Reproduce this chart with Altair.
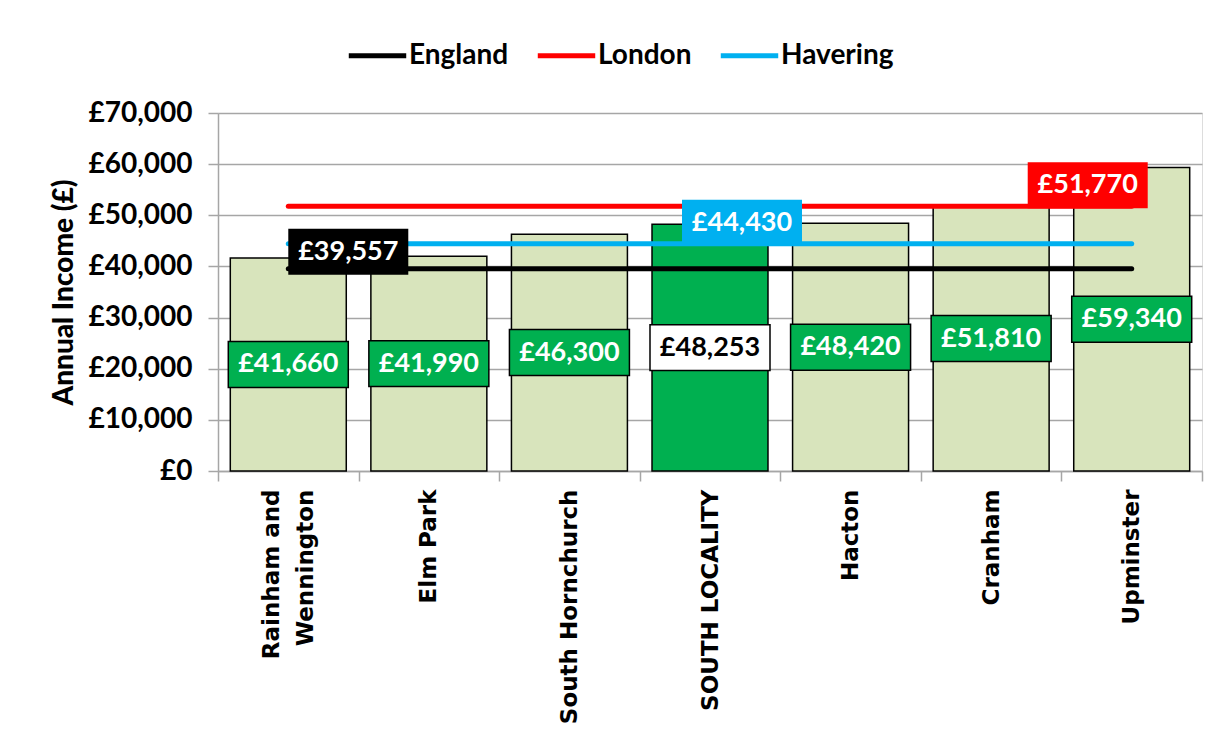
import altair as alt
import pandas as pd

# ---- data ----
categories = ["Rainham and Wennington", "Elm Park", "South Hornchurch",
              "SOUTH LOCALITY", "Hacton", "Cranham", "Upminster"]
incomes = [41660, 41990, 46300, 48253, 48420, 51810, 59340]
highlight = "SOUTH LOCALITY"

series_names = ["England", "London", "Havering"]
series_values = [39557, 51770, 44430]
series_colors = ["#000000", "#FF0000", "#00B0F0"]
series_label_anchor = ["Rainham and Wennington", "Upminster", "SOUTH LOCALITY"]

y_ticks = [0, 10000, 20000, 30000, 40000, 50000, 60000, 70000]

# ---- tables ----
bars_df = pd.DataFrame({"area": categories, "income": incomes})
bars_df["label"] = ["£{:,}".format(v) for v in incomes]
bars_df["hl"] = bars_df["area"] == highlight

line_rows = []
for n, v in zip(series_names, series_values):
    line_rows.append({"series": n, "area": categories[0], "value": v})
    line_rows.append({"series": n, "area": categories[-1], "value": v})
lines_df = pd.DataFrame(line_rows)

LABEL_FONT = "Lato"
GRID = "#A6A6A6"
BOX = "M-1,-0.383H1V0.383H-1Z"

x_scale = alt.Scale(domain=categories, paddingInner=0, paddingOuter=0)
y_scale = alt.Scale(domain=[0, 70000])

x_enc = alt.X(
    "area:N", sort=categories, scale=x_scale,
    axis=alt.Axis(
        title=None, labelAngle=270, labelAlign="right", labelBaseline="middle",
        labelFont="DejaVu Sans", labelFontWeight="bold", labelFontSize=23,
        labelColor="#000000", labelPadding=8, labelLineHeight=34,
        labelExpr="datum.value == 'Rainham and Wennington' ? ['Rainham and', 'Wennington'] : datum.value",
        labelOffset={"condition": {"test": "datum.value == 'Rainham and Wennington'", "value": -17},
                     "value": 0},
        tickBand="extent", tickSize=10, tickColor=GRID, tickWidth=1.5,
        domainColor=GRID, domainWidth=1.5, labelLimit=400,
    ),
)
y_axis = alt.Axis(
    values=y_ticks, labelExpr="'£' + format(datum.value, ',')",
    labelFont=LABEL_FONT, labelFontWeight="bold", labelFontSize=28, labelColor="#000000",
    labelPadding=16, tickSize=10, tickColor=GRID, tickWidth=1.5,
    domainColor=GRID, domainWidth=1.5, gridColor=GRID, gridWidth=1.5,
    title="Annual Income (£)", titleFont=LABEL_FONT, titleFontSize=28,
    titleFontWeight=900, titleColor="#000000", titlePadding=10,
)

bars = alt.Chart(bars_df).mark_bar(
    stroke="#000000", strokeWidth=1.5, width=alt.RelativeBandSize(0.825)
).encode(
    x=x_enc,
    y=alt.Y("income:Q", scale=y_scale, axis=y_axis),
    fill=alt.condition("datum.hl", alt.value("#00B050"), alt.value("#D8E4BC")),
)

label_base = alt.Chart(bars_df).transform_calculate(mid="datum.income / 2")

bar_boxes = label_base.mark_point(
    shape=BOX, size=14400, filled=True, stroke="#000000", strokeWidth=1.5, opacity=1
).encode(
    x=alt.X("area:N", sort=categories, scale=x_scale),
    y=alt.Y("mid:Q", scale=y_scale),
    fill=alt.condition("datum.hl", alt.value("#FFFFFF"), alt.value("#00B050")),
)

bar_text = label_base.mark_text(
    font=LABEL_FONT, fontWeight="bold", fontSize=27, baseline="middle", align="center"
).encode(
    x=alt.X("area:N", sort=categories, scale=x_scale),
    y=alt.Y("mid:Q", scale=y_scale),
    text="label:N",
    color=alt.condition("datum.hl", alt.value("#000000"), alt.value("#FFFFFF")),
)

lines = alt.Chart(lines_df).mark_line(strokeWidth=5, strokeCap="round").encode(
    x=alt.X("area:N", sort=categories, scale=x_scale),
    y=alt.Y("value:Q", scale=y_scale),
    color=alt.Color(
        "series:N",
        scale=alt.Scale(domain=series_names, range=series_colors),
        legend=alt.Legend(
            orient="none", legendX=128, legendY=-89, direction="horizontal",
            title=None, symbolType="stroke", symbolSize=3300, symbolStrokeWidth=5,
            labelFont=LABEL_FONT, labelFontSize=28, labelFontWeight="bold",
            labelColor="#000000", labelOffset=0, columnPadding=18, padding=0,
        ),
    ),
    detail="series:N",
)

offsets = {"England": (60, -17), "London": (-44, -21), "Havering": (32, -21)}
line_label_layers = []
for n, v, c, a in zip(series_names, series_values, series_colors, series_label_anchor):
    df = pd.DataFrame({"series": [n], "area": [a], "value": [v],
                       "label": ["£{:,}".format(v)]})
    dx, dy = offsets[n]
    box = alt.Chart(df).mark_point(
        shape=BOX, size=14400, filled=True, fill=c, strokeWidth=0, opacity=1,
        xOffset=dx, yOffset=dy,
    ).encode(
        x=alt.X("area:N", sort=categories, scale=x_scale),
        y=alt.Y("value:Q", scale=y_scale),
    )
    txt = alt.Chart(df).mark_text(
        font=LABEL_FONT, fontWeight="bold", fontSize=27, color="#FFFFFF",
        baseline="middle", align="center", dx=dx, dy=dy,
    ).encode(
        x=alt.X("area:N", sort=categories, scale=x_scale),
        y=alt.Y("value:Q", scale=y_scale),
        text="label:N",
    )
    line_label_layers += [box, txt]

chart = alt.layer(bars, bar_boxes, bar_text, lines, *line_label_layers).properties(
    width=984, height=358,
    autosize=alt.AutoSizeParams(type="none"),
    padding={"left": 210, "top": 105, "right": 12, "bottom": 256},
).configure_view(stroke=None).configure(background="#FFFFFF")

chart.save("out.html", embed_options={"renderer": "svg", "actions": False})
